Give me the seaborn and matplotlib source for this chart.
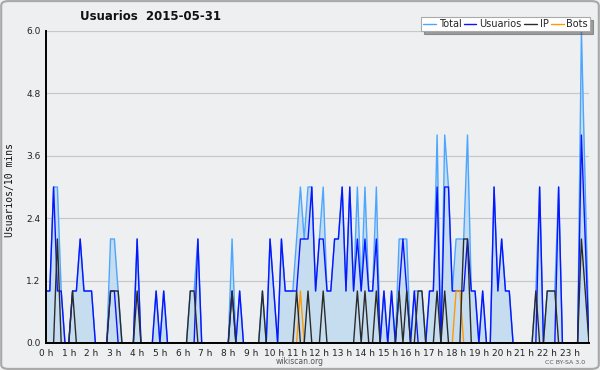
import numpy as np
import pandas as pd
import seaborn as sns
import matplotlib.pyplot as plt
from matplotlib.patches import FancyBboxPatch

# values per 10-minute slot, one row per hour
usuarios = [1, 1, 3, 1, 1, 0,  0, 1, 1, 2, 1, 1,  1, 0, 0, 0, 0, 1,  1, 0, 0, 0, 0, 0,
            2, 0, 0, 0, 0, 1,  0, 1, 0, 0, 0, 0,  0, 0, 0, 0, 2, 0,  0, 0, 0, 0, 0, 0,
            0, 1, 0, 1, 0, 0,  0, 0, 0, 0, 0, 2,  1, 0, 2, 1, 1, 1,  1, 2, 2, 2, 3, 1,
            2, 2, 1, 1, 2, 2,  3, 1, 3, 1, 2, 1,  2, 1, 1, 2, 0, 1,  0, 1, 0, 1, 2, 1,
            0, 1, 0, 0, 0, 1,  1, 3, 0, 3, 3, 1,  1, 1, 1, 2, 1, 1,  0, 1, 0, 0, 3, 1,
            2, 1, 1, 0, 0, 0,  0, 0, 0, 0, 3, 0,  0, 0, 0, 3, 0, 0,  0, 0, 0, 4, 2, 0]
ip = [0, 0, 0, 2, 0, 0,  0, 1, 0, 0, 0, 0,  0, 0, 0, 0, 0, 1,  1, 1, 0, 0, 0, 0,
      1, 0, 0, 0, 0, 0,  0, 0, 0, 0, 0, 0,  0, 0, 1, 1, 0, 0,  0, 0, 0, 0, 0, 0,
      0, 1, 0, 0, 0, 0,  0, 0, 0, 1, 0, 0,  0, 0, 0, 0, 0, 0,  1, 0, 0, 1, 0, 0,
      0, 1, 0, 0, 0, 0,  0, 0, 0, 0, 1, 0,  1, 0, 0, 1, 0, 0,  0, 0, 0, 1, 0, 1,
      0, 0, 1, 1, 0, 0,  0, 1, 0, 1, 0, 0,  0, 0, 2, 2, 0, 0,  0, 0, 0, 0, 0, 0,
      0, 0, 0, 0, 0, 0,  0, 0, 0, 1, 0, 0,  1, 1, 1, 0, 0, 0,  0, 0, 0, 2, 1, 0]
bots = [0] * 67 + [1] + [0] * 40 + [1, 1] + [0] * 34
total = [1, 1, 3, 3, 1, 0,  0, 1, 1, 2, 1, 1,  1, 0, 0, 0, 0, 2,  2, 1, 0, 0, 0, 0,
         2, 0, 0, 0, 0, 1,  0, 1, 0, 0, 0, 0,  0, 0, 1, 1, 2, 0,  0, 0, 0, 0, 0, 0,
         0, 2, 0, 1, 0, 0,  0, 0, 0, 1, 0, 2,  1, 0, 2, 1, 1, 1,  2, 3, 2, 3, 3, 1,
         2, 3, 1, 1, 2, 2,  3, 1, 3, 1, 3, 1,  3, 1, 1, 3, 0, 1,  0, 1, 0, 2, 2, 2,
         0, 1, 1, 1, 0, 1,  1, 4, 0, 4, 3, 1,  2, 2, 2, 4, 1, 1,  0, 1, 0, 0, 3, 1,
         2, 1, 1, 0, 0, 0,  0, 0, 0, 1, 3, 0,  1, 1, 1, 3, 0, 0,  0, 0, 0, 6, 3, 0]

hour_labels = [f'{h} h' for h in range(24)]
y_ticks = [0.0, 1.2, 2.4, 3.6, 4.8, 6.0]

df = pd.DataFrame({'hora': np.arange(len(total)) / 6, 'Total': total,
                   'Usuarios': usuarios, 'IP': ip, 'Bots': bots})

bg = '#eeeff1'
sns.set_theme(style='white')
plt.rcParams['font.family'] = ['DejaVu Sans']

fig = plt.figure(figsize=(6, 3.7), dpi=100, facecolor=bg)
ax = fig.add_axes([46 / 600, 1 - 343 / 370, 543 / 600, 312 / 370])
ax.set_facecolor(bg)

ax.fill_between(df['hora'], df['Total'], color='#c6ddf0', lw=0, zorder=2)
sns.lineplot(data=df, x='hora', y='Total', ax=ax, color='#4ca6ff', lw=1, label='Total', zorder=3)
sns.lineplot(data=df, x='hora', y='Usuarios', ax=ax, color='#0a14ff', lw=1, label='Usuarios', zorder=4)
sns.lineplot(data=df, x='hora', y='IP', ax=ax, color='#2b2b2b', lw=1, label='IP', zorder=5)
sns.lineplot(data=df, x='hora', y='Bots', ax=ax, color='#ff9a00', lw=1, label='Bots', zorder=4)

ax.set_xlim(0, 143 / 6)
ax.set_ylim(0, 6)
ax.set_xticks(range(24))
ax.set_xticklabels(hour_labels, fontsize=6.5)
ax.set_xticks(np.arange(0, 144) / 6, minor=True)
ax.set_yticks(y_ticks)
ax.set_yticklabels([f'{v:.1f}' for v in y_ticks], fontsize=6.5)
ax.set_yticks(np.arange(0, 6.01, 0.3), minor=True)
ax.tick_params(axis='both', which='major', direction='out', length=3.5, width=1, color='black',
               pad=0.5, labelcolor='#222222')
ax.tick_params(axis='both', which='minor', direction='out', length=3, width=1, color='black')
ax.set_xlabel('')
ax.set_ylabel('')
ax.set_axisbelow(True)
ax.yaxis.grid(True, color='#c8c8c8', lw=0.9)
for s in ['top', 'right']:
    ax.spines[s].set_visible(False)
for s in ['left', 'bottom']:
    ax.spines[s].set_color('black')
    ax.spines[s].set_linewidth(1.4)
    ax.spines[s].set_zorder(10)

handles, labels = ax.get_legend_handles_labels()
ax.get_legend().remove()
leg = fig.legend(handles, labels, loc='upper right', bbox_to_anchor=(590 / 600, 1 - 17 / 370),
                 ncol=4, fontsize=7, frameon=True, fancybox=False, shadow=True,
                 handlelength=1.3, handletextpad=0.3, columnspacing=0.25, borderpad=0.2,
                 borderaxespad=0)
leg.get_frame().set_edgecolor('#aaaaaa')
leg.get_frame().set_facecolor('white')
leg.get_frame().set_linewidth(0.8)

fig.text(150 / 600, 1 - 16 / 370, 'Usuarios  2015-05-31', ha='center', va='center',
         fontsize=8.5, fontweight='bold', color='#111111')
fig.text(10 / 600, 1 - 190 / 370, 'Usuarios/10 mins', rotation=90, ha='center', va='center',
         fontsize=7, family='DejaVu Sans Mono', color='#111111')
fig.text(300 / 600, 1 - 362 / 370, 'wikiscan.org', ha='center', va='center', fontsize=5.5, color='#555555')
fig.text(565 / 600, 1 - 362 / 370, 'CC BY-SA 3.0', ha='center', va='center', fontsize=4.5, color='#555555')

fig.patches.append(FancyBboxPatch((0.002, 0.003), 0.996, 0.994, boxstyle='round,pad=0,rounding_size=0.012',
                                  transform=fig.transFigure, fill=False, edgecolor='#a8a8a8', lw=1.5))

fig.savefig('out.png', dpi=100, facecolor=bg)
